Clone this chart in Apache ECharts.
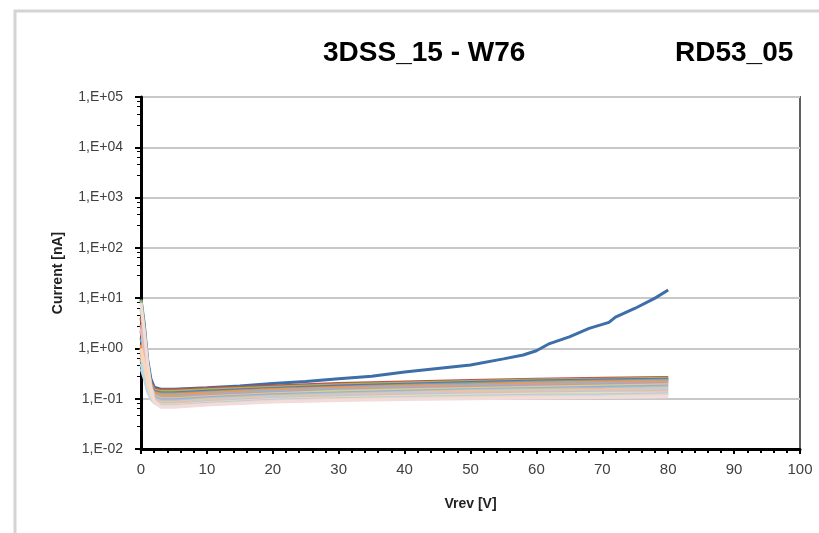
<!DOCTYPE html>
<html>
<head>
<meta charset="utf-8">
<script src="https://cdn.jsdelivr.net/npm/echarts@6/dist/echarts.min.js"></script>
<style>
html, body { margin: 0; padding: 0; background: #fff; }
#chart { width: 819px; height: 533px; }
</style>
</head>
<body>
<div id="chart"></div>
<script>
// voltages (V) of the measured points
var vBlue = [0, 0.5, 1, 1.5, 2, 3, 5, 10, 15, 20, 25, 30, 35, 40, 45, 50, 55, 58, 60, 62, 65, 68, 70, 71, 72, 75, 78, 80];
var vBundle = [0, 0.5, 1, 1.5, 2, 3, 5, 10, 20, 30, 40, 50, 60, 70, 80];

// currents (nA)
var iBlue = [9.5, 3.0, 0.6, 0.25, 0.17, 0.155, 0.155, 0.165, 0.18, 0.2, 0.22, 0.25, 0.28, 0.34, 0.4, 0.47, 0.62, 0.74, 0.9, 1.25, 1.7, 2.5, 3.0, 3.3, 4.2, 6.3, 10, 14.5];
var iRed = [4.0, 1.3, 0.40, 0.21, 0.16, 0.15, 0.15, 0.16, 0.18, 0.20, 0.215, 0.23, 0.245, 0.255, 0.265];
var iGreen = [9.0, 2.4, 0.50, 0.20, 0.15, 0.14, 0.14, 0.15, 0.17, 0.19, 0.205, 0.22, 0.235, 0.245, 0.255];
var iPurple = [2.2, 0.9, 0.32, 0.18, 0.14, 0.13, 0.13, 0.14, 0.16, 0.18, 0.195, 0.21, 0.225, 0.235, 0.245];
var iAqua = [1.6, 0.7, 0.28, 0.17, 0.135, 0.125, 0.125, 0.135, 0.155, 0.17, 0.185, 0.2, 0.215, 0.225, 0.235];
var iOrange = [1.2, 0.55, 0.25, 0.16, 0.13, 0.12, 0.12, 0.13, 0.15, 0.165, 0.18, 0.19, 0.205, 0.215, 0.225];
var iBlue2 = [0.8, 0.45, 0.22, 0.15, 0.12, 0.11, 0.11, 0.12, 0.14, 0.155, 0.17, 0.18, 0.19, 0.2, 0.21];
var iRed2 = [3.0, 1.0, 0.35, 0.18, 0.12, 0.105, 0.105, 0.115, 0.13, 0.145, 0.16, 0.17, 0.18, 0.19, 0.2];
var iGreen2 = [6.0, 1.8, 0.45, 0.17, 0.115, 0.1, 0.1, 0.11, 0.125, 0.14, 0.15, 0.16, 0.17, 0.18, 0.19];
var iPurple2 = [0.6, 0.35, 0.18, 0.13, 0.11, 0.095, 0.095, 0.105, 0.12, 0.13, 0.14, 0.15, 0.16, 0.17, 0.18];
var iAqua2 = [1.0, 0.5, 0.22, 0.14, 0.105, 0.09, 0.09, 0.1, 0.115, 0.125, 0.135, 0.145, 0.155, 0.16, 0.17];
var iOrange2 = [0.9, 0.45, 0.2, 0.13, 0.1, 0.085, 0.085, 0.095, 0.11, 0.12, 0.13, 0.14, 0.145, 0.15, 0.16];
var iBlue3 = [0.5, 0.3, 0.16, 0.12, 0.095, 0.08, 0.08, 0.09, 0.105, 0.115, 0.125, 0.13, 0.135, 0.14, 0.15];
var iRed3 = [2.5, 0.9, 0.3, 0.15, 0.1, 0.078, 0.078, 0.086, 0.1, 0.11, 0.118, 0.124, 0.13, 0.135, 0.14];
var iGreen3 = [0.7, 0.4, 0.18, 0.12, 0.09, 0.075, 0.075, 0.083, 0.096, 0.105, 0.112, 0.118, 0.124, 0.128, 0.13];
var iPurple3 = [0.4, 0.25, 0.14, 0.1, 0.085, 0.072, 0.072, 0.08, 0.093, 0.1, 0.106, 0.112, 0.117, 0.12, 0.125];
var iAqua3 = [0.5, 0.28, 0.15, 0.1, 0.083, 0.071, 0.071, 0.078, 0.09, 0.097, 0.103, 0.108, 0.112, 0.115, 0.12];
var iOrange3 = [1.0, 0.5, 0.2, 0.12, 0.085, 0.07, 0.07, 0.077, 0.088, 0.095, 0.1, 0.105, 0.108, 0.11, 0.115];
var iPink = [8.0, 2.2, 0.5, 0.17, 0.09, 0.068, 0.068, 0.075, 0.086, 0.092, 0.097, 0.1, 0.103, 0.106, 0.11];

var bundle = [
    ['#C0504D', iRed], ['#9BBB59', iGreen], ['#8064A2', iPurple], ['#4BACC6', iAqua], ['#F79646', iOrange],
    ['#95B3D7', iBlue2], ['#D99694', iRed2], ['#C3D69B', iGreen2], ['#B3A2C7', iPurple2], ['#93CDDD', iAqua2],
    ['#FAC090', iOrange2], ['#B9CDE5', iBlue3], ['#E6B9B8', iRed3], ['#D7E4BD', iGreen3], ['#CCC1DA', iPurple3],
    ['#B7DEE8', iAqua3], ['#FCD5B5', iOrange3], ['#F2DCDB', iPink]
];

function pairs(xs, ys){
    return xs.map(function(x, i){ return [x, ys[i]]; });
}

function expLabel(v){
    var e = Math.round(Math.log10(v));
    var a = Math.abs(e);
    return '1,E' + (e < 0 ? '-' : '+') + (a < 10 ? '0' : '') + a;
}

var series = [{
    name: 'blue', type: 'line', showSymbol: false,
    lineStyle: {color: '#3e6ea8', width: 3},
    data: pairs(vBlue, iBlue)
}];
bundle.forEach(function(b, k){
    series.push({
        name: 's' + k, type: 'line', showSymbol: false,
        lineStyle: {color: b[0], width: 3},
        data: pairs(vBundle, b[1])
    });
});

var font = "'Liberation Sans', Arial, sans-serif";
var myChart = echarts.init(document.getElementById('chart'));
var option = {
    animation: false,
    backgroundColor: '#fff',
    title: [
        {text: '3DSS_15 - W76', left: 318, top: 34,
         textStyle: {fontFamily: font, fontSize: 28, fontWeight: 'bold', color: '#000'}},
        {text: 'RD53_05', left: 670, top: 34,
         textStyle: {fontFamily: font, fontSize: 28, fontWeight: 'bold', color: '#000'}}
    ],
    graphic: [{
        type: 'rect', shape: {x: 15, y: 11, width: 900, height: 600},
        style: {fill: 'none', stroke: '#d4d4d4', lineWidth: 3}, silent: true
    }],
    grid: {
        left: 141, right: 19, top: 97, bottom: 84,
        show: true, borderColor: '#606060', borderWidth: 2
    },
    xAxis: {
        type: 'value', min: 0, max: 100, interval: 10,
        name: 'Vrev [V]', nameLocation: 'middle', nameGap: 48,
        nameTextStyle: {fontFamily: font, fontSize: 14, fontWeight: 'bold', color: '#222'},
        axisLine: {lineStyle: {color: '#000', width: 3}},
        axisTick: {length: 5, lineStyle: {color: '#000', width: 2}},
        minorTick: {show: true, splitNumber: 5, length: 4, lineStyle: {color: '#000', width: 2}},
        axisLabel: {fontFamily: font, fontSize: 15, color: '#404040', margin: 13},
        splitLine: {show: false}
    },
    yAxis: {
        type: 'log', logBase: 10, min: 0.01, max: 100000,
        name: 'Current [nA]', nameLocation: 'middle', nameGap: 76,
        nameTextStyle: {fontFamily: font, fontSize: 14, fontWeight: 'bold', color: '#222'},
        axisLine: {lineStyle: {color: '#000', width: 3}},
        axisTick: {length: 6, lineStyle: {color: '#000', width: 2}},
        minorTick: {show: true, splitNumber: 5, length: 4, lineStyle: {color: '#000', width: 1}},
        axisLabel: {fontFamily: font, fontSize: 14, color: '#404040', margin: 18, formatter: expLabel},
        splitLine: {show: true, lineStyle: {color: '#c8c8c8', width: 2}}
    },
    series: series
};
myChart.setOption(option);
</script>
</body>
</html>
